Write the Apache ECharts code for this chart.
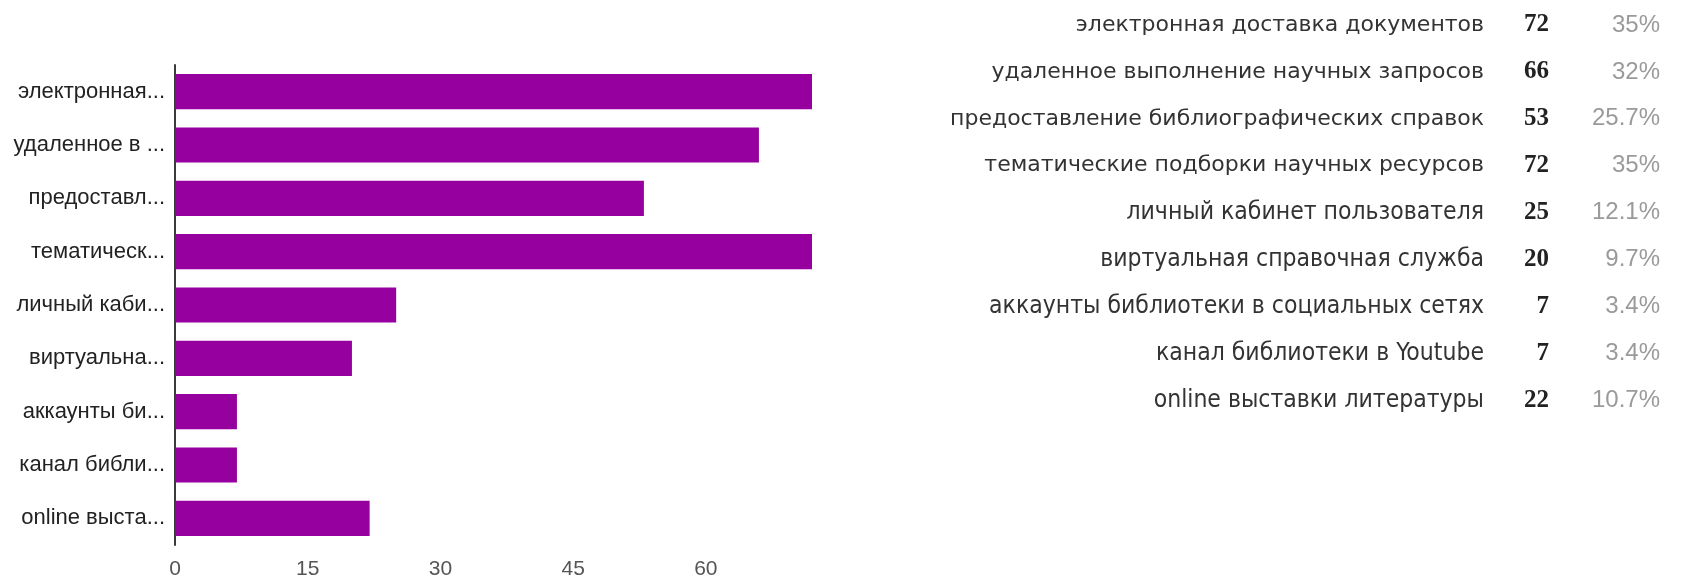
<!DOCTYPE html>
<html>
<head>
<meta charset="utf-8">
<script src="https://cdn.jsdelivr.net/npm/echarts@6/dist/echarts.min.js"></script>
<style>
html,body{margin:0;padding:0;background:#fff;}
#chart{width:1681px;height:580px;}
</style>
</head>
<body>
<div id="chart"></div>
<script>
// ---- data ----
const categories = [
  'электронная доставка документов',
  'удаленное выполнение научных запросов',
  'предоставление библиографических справок',
  'тематические подборки научных ресурсов',
  'личный кабинет пользователя',
  'виртуальная справочная служба',
  'аккаунты библиотеки в социальных сетях',
  'канал библиотеки в Youtube',
  'online выставки литературы'
];
const axisLabels = [
  'электронная...',
  'удаленное в ...',
  'предоставл...',
  'тематическ...',
  'личный каби...',
  'виртуальна...',
  'аккаунты би...',
  'канал библи...',
  'online выста...'
];
const counts = [72, 66, 53, 72, 25, 20, 7, 7, 22];
const percents = ['35%', '32%', '25.7%', '35%', '12.1%', '9.7%', '3.4%', '3.4%', '10.7%'];
const xMin = 0, xMax = 72, xStep = 15;

// ---- chart ----
const chart = echarts.init(document.getElementById('chart'), null, {renderer: 'canvas'});

const rowTop = 25, rowStep = 46.9;
const graphics = [];
categories.forEach((name, i) => {
  const y = rowTop + i * rowStep;
  const wide = i < 4;
  graphics.push({
    type: 'text', x: 1484, y: y,
    style: {
      text: name, fill: '#333',
      font: wide ? '22px "DejaVu Sans"' : '24.5px "Liberation Sans Narrow", "DejaVu Sans Condensed", sans-serif',
      textAlign: 'right', textVerticalAlign: 'middle'
    }
  });
  graphics.push({
    type: 'text', x: 1549, y: y,
    style: {
      text: String(counts[i]), fill: '#222',
      font: 'bold 25px "Liberation Serif", serif',
      textAlign: 'right', textVerticalAlign: 'middle'
    }
  });
  graphics.push({
    type: 'text', x: 1660, y: y,
    style: {
      text: percents[i], fill: '#9a9a9a',
      font: '24px "Liberation Sans", sans-serif',
      textAlign: 'right', textVerticalAlign: 'middle'
    }
  });
});

chart.setOption({
  animation: false,
  backgroundColor: '#fff',
  grid: {left: 175, right: 869, top: 65, bottom: 35, containLabel: false},
  xAxis: {
    type: 'value', min: xMin, max: xMax, interval: xStep,
    axisLine: {show: false}, axisTick: {show: false}, splitLine: {show: false},
    axisLabel: {
      color: '#555', fontSize: 21, fontFamily: 'Liberation Sans', margin: 14,
      showMaxLabel: false
    }
  },
  yAxis: {
    type: 'category', inverse: true, data: axisLabels,
    axisLine: {show: true, lineStyle: {color: '#3a3a3a', width: 2}},
    axisTick: {show: false},
    axisLabel: {color: '#222', fontSize: 22, fontFamily: 'Liberation Sans', margin: 10}
  },
  series: [{
    type: 'bar', data: counts, barCategoryGap: '34%',
    itemStyle: {color: '#96009f'}
  }],
  graphic: graphics
});
</script>
</body>
</html>
